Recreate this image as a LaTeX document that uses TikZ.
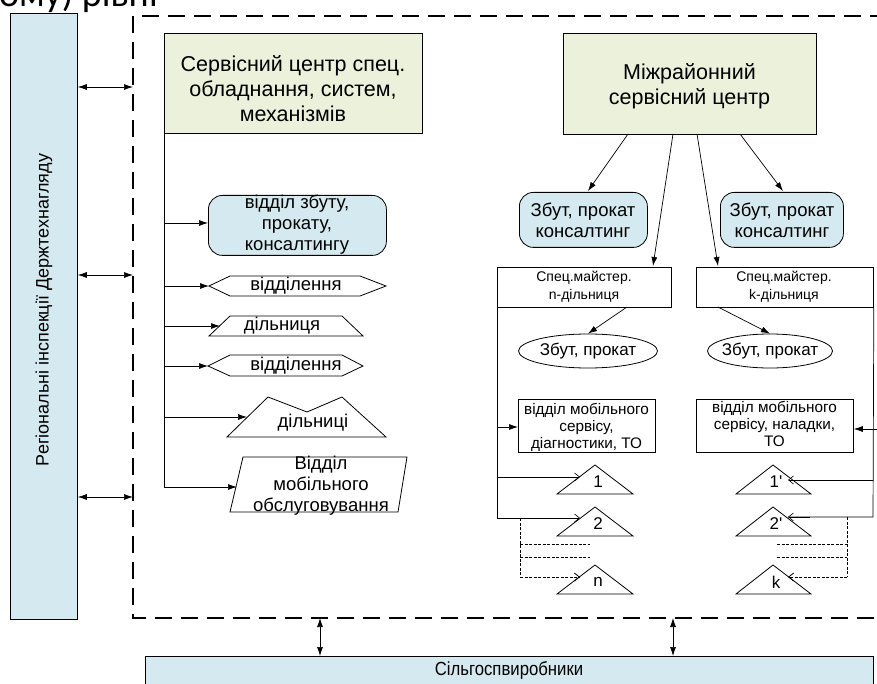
\documentclass[tikz,border=0pt]{standalone}
\usepackage{fontspec}
\setmainfont{Liberation Sans}
\newfontfamily\titlefont{Carlito}
\usetikzlibrary{arrows.meta,shapes.geometric}
\definecolor{lblue}{HTML}{D5EAF0}
\definecolor{lgreen}{HTML}{EBF1DA}
\begin{document}
\begin{tikzpicture}[x=1pt,y=-1pt,
  every node/.style={align=center, inner sep=0pt, font=\fontsize{15}{17}\selectfont},
  box/.style={draw, line width=0.8pt},
  arr/.style={-{Latex[length=9pt,width=6pt]}, line width=0.7pt},
  darr/.style={{Latex[length=9pt,width=6pt]}-{Latex[length=9pt,width=6pt]}, line width=0.7pt},
  oarr/.style={-{Straight Barb[length=5pt,width=8pt]}, line width=0.6pt},
  dline/.style={dash pattern=on 3pt off 1.5pt, line width=0.8pt},
  frame/.style={line width=2pt, dash pattern=on 17pt off 9pt},
  big/.style={font=\fontsize{21.5}{25}\selectfont},
  mid/.style={font=\fontsize{18.5}{21}\selectfont},
  emid/.style={font=\fontsize{17}{20}\selectfont},
  small/.style={font=\fontsize{14}{18}\selectfont},
  sm/.style={font=\fontsize{15.3}{17}\selectfont},
  num/.style={font=\fontsize{17}{17}\selectfont}]
\useasboundingbox (0,0) rectangle (877,684);
% title fragment
\node[anchor=base east, font=\titlefont\fontsize{38}{38}\selectfont] (title) at (158,7) {ому) рівні};
% dashed frame
\draw[frame] (900,618) -- (133,618) -- (133,16) -- (900,16);
\coordinate (fl1) at (133,87);
\coordinate (fl2) at (133,275);
\coordinate (fl3) at (133,497);
\coordinate (fb1) at (320,618);
\coordinate (fb2) at (673,618);
% left box
\node[box, fill=lblue, anchor=north west, minimum width=67pt, minimum height=606pt] (reg) at (10,13) {};
\node[rotate=90, font=\fontsize{18}{20}\selectfont] (regt) at (44,310) {Регіональні інспекції Держтехнагляду};
\draw[darr] (reg.east |- fl1) -- (fl1);
\draw[darr] (reg.east |- fl2) -- (fl2);
\draw[darr] (reg.east |- fl3) -- (fl3);
% bottom box
\node[box, fill=lblue, anchor=north west, minimum width=728pt, minimum height=60pt] (farm) at (145,656) {};
\node[font=\fontsize{19}{20}\selectfont] (farmt) at (509,670) {\scalebox{0.88}[1]{Сільгоспвиробники}};
\draw[darr] (fb1) -- (fb1 |- farm.north);
\draw[darr] (fb2) -- (fb2 |- farm.north);
% service centre
\node[box, fill=lgreen, anchor=north west, minimum width=258pt, minimum height=100pt] (sc) at (164,33) {};
\node[big] (sct) at (293,89) {Сервісний центр спец.\\обладнання, систем,\\механізмів};
% inter-district centre
\node[box, fill=lgreen, anchor=north west, minimum width=253pt, minimum height=101pt] (mc) at (563,33) {};
\node[big] (mct) at (689.5,86) {Міжрайонний\\сервісний центр};
% left branch line
\coordinate (vb) at (164,487);
\draw[line width=0.7pt] (sc.south west) -- (vb);
% shapes, left
\node[box, fill=lblue, rounded corners=14pt, anchor=north west, minimum width=178pt, minimum height=60pt] (zb) at (208,195) {};
\node[mid] (zbt) at (297,225) {відділ збуту,\\прокату,\\консалтингу};
\draw[arr] (164,223) -- (zb.west |- 0,223);
% hexagon 1
\draw[box] (209,286) -- (230,276) -- (360,276) -- (386,286) -- (360,296) -- (230,296) -- cycle;
\node[mid] (h1) at (296,286) {відділення};
\coordinate (h1w) at (209,286);
\draw[arr] (164,286) -- (h1w);
% trapezium
\draw[box] (230,316) -- (342,316) -- (363,336) -- (209,336) -- cycle;
\node[mid] (tr) at (282,326) {дільниця};
\coordinate (trw) at (220,326);
\draw[arr] (164,326) -- (trw);
% hexagon 2
\draw[box] (208,366) -- (230,355) -- (342,355) -- (363,366) -- (342,376) -- (230,376) -- cycle;
\node[mid] (h2) at (296,366) {відділення};
\coordinate (h2w) at (208,366);
\draw[arr] (164,366) -- (h2w);
% crown
\draw[box] (227,437) -- (268,397) -- (307,412) -- (342,397) -- (386,437) -- cycle;
\node[mid] (cr) at (313,423) {дільниці};
\coordinate (crw) at (247,417);
\draw[arr] (164,417) -- (crw);
% parallelogram
\draw[box] (243,457) -- (407,457) -- (398,512) -- (230,512) -- cycle;
\node[mid] (pg) at (321,486) {Відділ\\мобільного\\обслуговування};
\coordinate (pgw) at (237,487);
\draw[arr] (vb) -- (pgw);
% right part
\node[box, fill=lblue, rounded corners=14pt, anchor=north west, minimum width=128pt, minimum height=55pt] (z1) at (519,192) {};
\node[mid] (z1t) at (583,220) {Збут, прокат\\консалтинг};
\node[box, fill=lblue, rounded corners=14pt, anchor=north west, minimum width=123pt, minimum height=55pt] (z2) at (720,192) {};
\node[mid] (z2t) at (782,220) {Збут, прокат\\консалтинг};
\node[box, anchor=north west, minimum width=174pt, minimum height=40pt] (sn) at (497,267) {};
\node[small] (snt) at (584,287) {Спец.майстер.\\n-дільниця};
\node[box, anchor=north west, minimum width=177pt, minimum height=40pt] (sk) at (696,267) {};
\node[small] (skt) at (784,287) {Спец.майстер.\\k-дільниця};
\draw[arr] (628,134) -- (588,191);
\draw[arr] (673,134) -- (653,266);
\draw[arr] (697,134) -- (718,266);
\draw[arr] (740,134) -- (783,191);
% ellipses
\node[box, ellipse, minimum width=139pt, minimum height=34pt] (e1) at (588,351) {};
\node[emid] (e1t) at (e1.center) {Збут, прокат};
\node[box, ellipse, minimum width=125pt, minimum height=34pt] (e2) at (770,351) {};
\node[emid] (e2t) at (e2.center) {Збут, прокат};
\draw[arr] (627,307) -- (e1.north);
\draw[arr] (718,307) -- (e2.north);
% mobile boxes
\node[box, anchor=north west, minimum width=137pt, minimum height=53pt] (m1) at (518,399) {};
\node[sm] (m1t) at (586.5,427) {відділ мобільного\\сервісу,\\діагностики, ТО};
\node[box, anchor=north west, minimum width=157pt, minimum height=53pt] (m2) at (696,399) {};
\node[sm] (m2t) at (774.5,424) {відділ мобільного\\сервісу, наладки,\\ТО};
% containers
\draw[line width=0.7pt] (sn.south west) -- (497,518) -- (578,518);
\draw[line width=0.7pt] (sk.south east) -- (873,517) -- (788,517);
\coordinate (cl) at (497,427);
\coordinate (cr2) at (880,429);
\draw[arr] (cl) -- (m1.west |- cl);
\draw[arr] (cr2) -- (m2.east |- cr2);
% triangles left
\foreach \n/\y/\t in {t1/465/1, t2/507/2, t3/565/n}{
  \draw[box] (595,\y) -- (633,\y+29) -- (557,\y+29) -- cycle;
  \node[num] (\n) at (598,\y+17) {\t};
}
\foreach \n/\y/\t in {u1/465/1\textquotesingle, u2/507/2\textquotesingle, u3/565/k}{
  \draw[box] (773,\y) -- (811,\y+29) -- (736,\y+29) -- cycle;
  \node[num] (\n) at (776,\y+17) {\t};
}
\coordinate (t1w) at (580,477);
\coordinate (t2w) at (580,518);
\coordinate (t3w) at (580,577);
\coordinate (u1e) at (788,480);
\coordinate (u2e) at (788,517);
\coordinate (u3e) at (788,577);
\draw[oarr] (497,477) -- (t1w);
\draw[oarr] (560,518) -- (t2w);
\draw[oarr] (873,480) -- (u1e);
\draw[oarr] (810,517) -- (u2e);
% dashed links
\draw[dline] (520,518) -- (520,577);
\draw[dline, -{Straight Barb[length=5pt,width=8pt]}] (520,577) -- (t3w);
\draw[dline] (520,544) -- (590,544);
\draw[dline] (520,557) -- (590,557);
\draw[dline] (847,517) -- (847,577);
\draw[dline, -{Straight Barb[length=5pt,width=8pt]}] (847,577) -- (u3e);
\draw[dline] (777,544) -- (847,544);
\draw[dline] (777,557) -- (847,557);
\end{tikzpicture}
\end{document}
